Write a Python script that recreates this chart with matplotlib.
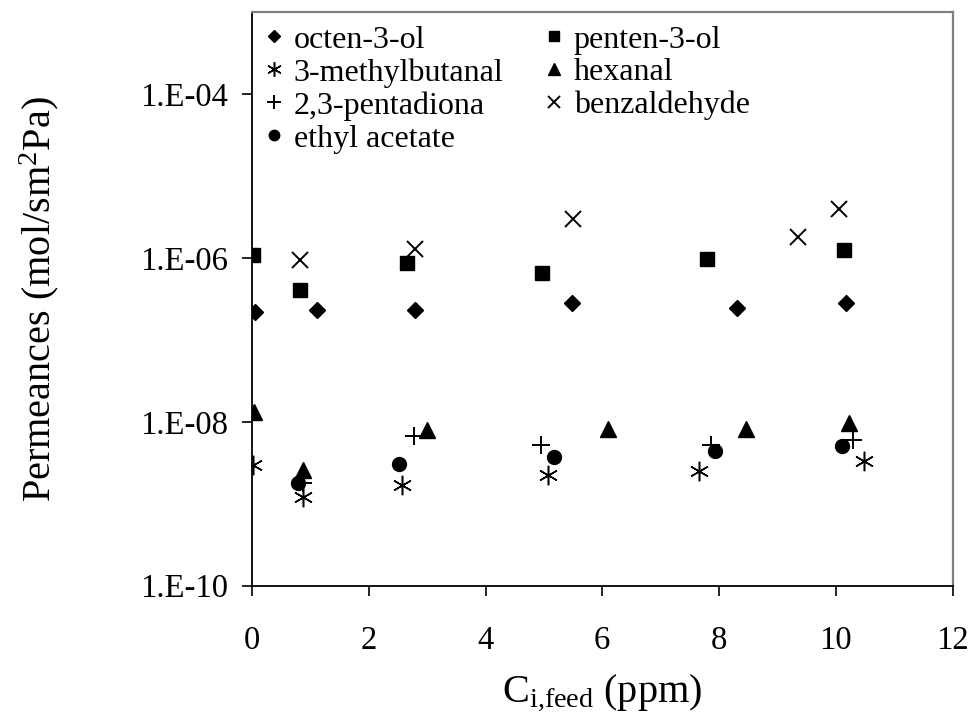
import matplotlib
matplotlib.use("Agg")
import matplotlib.pyplot as plt
from matplotlib.ticker import NullLocator

plt.rcParams["font.family"] = ["Liberation Serif", "DejaVu Serif"]
plt.rcParams["mathtext.fontset"] = "custom"
plt.rcParams["mathtext.rm"] = "Liberation Serif"
plt.rcParams["mathtext.it"] = "Liberation Serif"

# feed concentration (ppm) and permeance (mol/s m2 Pa) per compound
octenol_x = [0.06, 1.11, 2.80, 5.48, 8.31, 10.18]
octenol_y = [2.21e-7, 2.31e-7, 2.31e-7, 2.82e-7, 2.44e-7, 2.82e-7]

pentenol_x = [0.01, 0.82, 2.66, 4.97, 7.80, 10.14]
pentenol_y = [1.08e-6, 4.14e-7, 8.8e-7, 6.5e-7, 9.8e-7, 1.27e-6]

methylbutanal_x = [0.01, 0.88, 2.57, 5.07, 7.66, 10.49]
methylbutanal_y = [2.99e-9, 1.20e-9, 1.72e-9, 2.26e-9, 2.55e-9, 3.38e-9]

hexanal_x = [0.03, 0.87, 2.99, 6.09, 8.47, 10.23]
hexanal_y = [1.34e-8, 2.6e-9, 8.0e-9, 8.2e-9, 8.2e-9, 9.7e-9]

pentadiona_x = [0.87, 2.77, 4.95, 7.87, 10.30]
pentadiona_y = [1.82e-9, 6.65e-9, 5.26e-9, 5.26e-9, 5.94e-9]

benzaldehyde_x = [0.83, 2.80, 5.50, 9.36, 10.06]
benzaldehyde_y = [9.6e-7, 1.28e-6, 3.03e-6, 1.83e-6, 3.95e-6]

ethylacetate_x = [0.79, 2.51, 5.18, 7.93, 10.10]
ethylacetate_y = [1.82e-9, 3.08e-9, 3.78e-9, 4.36e-9, 5.12e-9]

x_ticks = [0, 2, 4, 6, 8, 10, 12]
y_ticks = [1e-10, 1e-8, 1e-6, 1e-4]
y_ticklabels = ["1.E-10", "1.E-08", "1.E-06", "1.E-04"]

fig = plt.figure(figsize=(9.74, 7.25), dpi=100)
ax = fig.add_axes([0.2587, 0.1921, 0.7193, 0.7907])

h_oct, = ax.plot(octenol_x, octenol_y, "D", color="black", ms=8.5, ls="none", label="octen-3-ol")
h_pen, = ax.plot(pentenol_x, pentenol_y, "s", color="black", ms=10, ls="none", label="penten-3-ol")
h_met, = ax.plot(methylbutanal_x, methylbutanal_y, marker=(6, 2, 0), color="black", ms=14,
                 mew=1.1, ls="none", label="3-methylbutanal")
h_hex, = ax.plot(hexanal_x, hexanal_y, "^", color="black", ms=11, ls="none", label="hexanal")
h_pd, = ax.plot(pentadiona_x, pentadiona_y, "+", color="black", ms=13, mew=1.4, ls="none",
                label="2,3-pentadiona")
h_bz, = ax.plot(benzaldehyde_x, benzaldehyde_y, "x", color="black", ms=12, mew=1.4, ls="none",
                label="benzaldehyde")
h_ea, = ax.plot(ethylacetate_x, ethylacetate_y, "o", color="black", ms=10, ls="none",
                label="ethyl acetate")

ax.set_yscale("log")
ax.set_xlim(0, 12)
ax.set_ylim(1e-10, 1e-3)
ax.set_xticks(x_ticks)
ax.set_yticks(y_ticks)
ax.set_yticklabels(y_ticklabels)
ax.yaxis.set_minor_locator(NullLocator())
ax.tick_params(axis="both", direction="out", length=7.5, width=1.2, labelsize=23.5)
ax.tick_params(axis="x", pad=21)
ax.tick_params(axis="y", pad=10)

for side in ["left", "bottom"]:
    ax.spines[side].set_color("black")
    ax.spines[side].set_linewidth(1.3)
for side in ["top", "right"]:
    ax.spines[side].set_color("#808080")
    ax.spines[side].set_linewidth(1.6)

ax.set_xlabel(r"C$_{\mathrm{i{,}feed}}$ (ppm)", fontsize=29, labelpad=12)
ax.set_ylabel(r"Permeances (mol/sm$^{\mathrm{2}}$Pa)", fontsize=29, labelpad=57)

ax.legend(handles=[h_oct, h_met, h_pd, h_ea, h_pen, h_hex, h_bz], ncol=2, loc="upper left",
          frameon=False, fontsize=23, handlelength=0.6, handletextpad=0.3, labelspacing=0.11,
          columnspacing=1.3, borderpad=0, borderaxespad=0.4, markerscale=0.75)

fig.savefig("out.png", dpi=100)
